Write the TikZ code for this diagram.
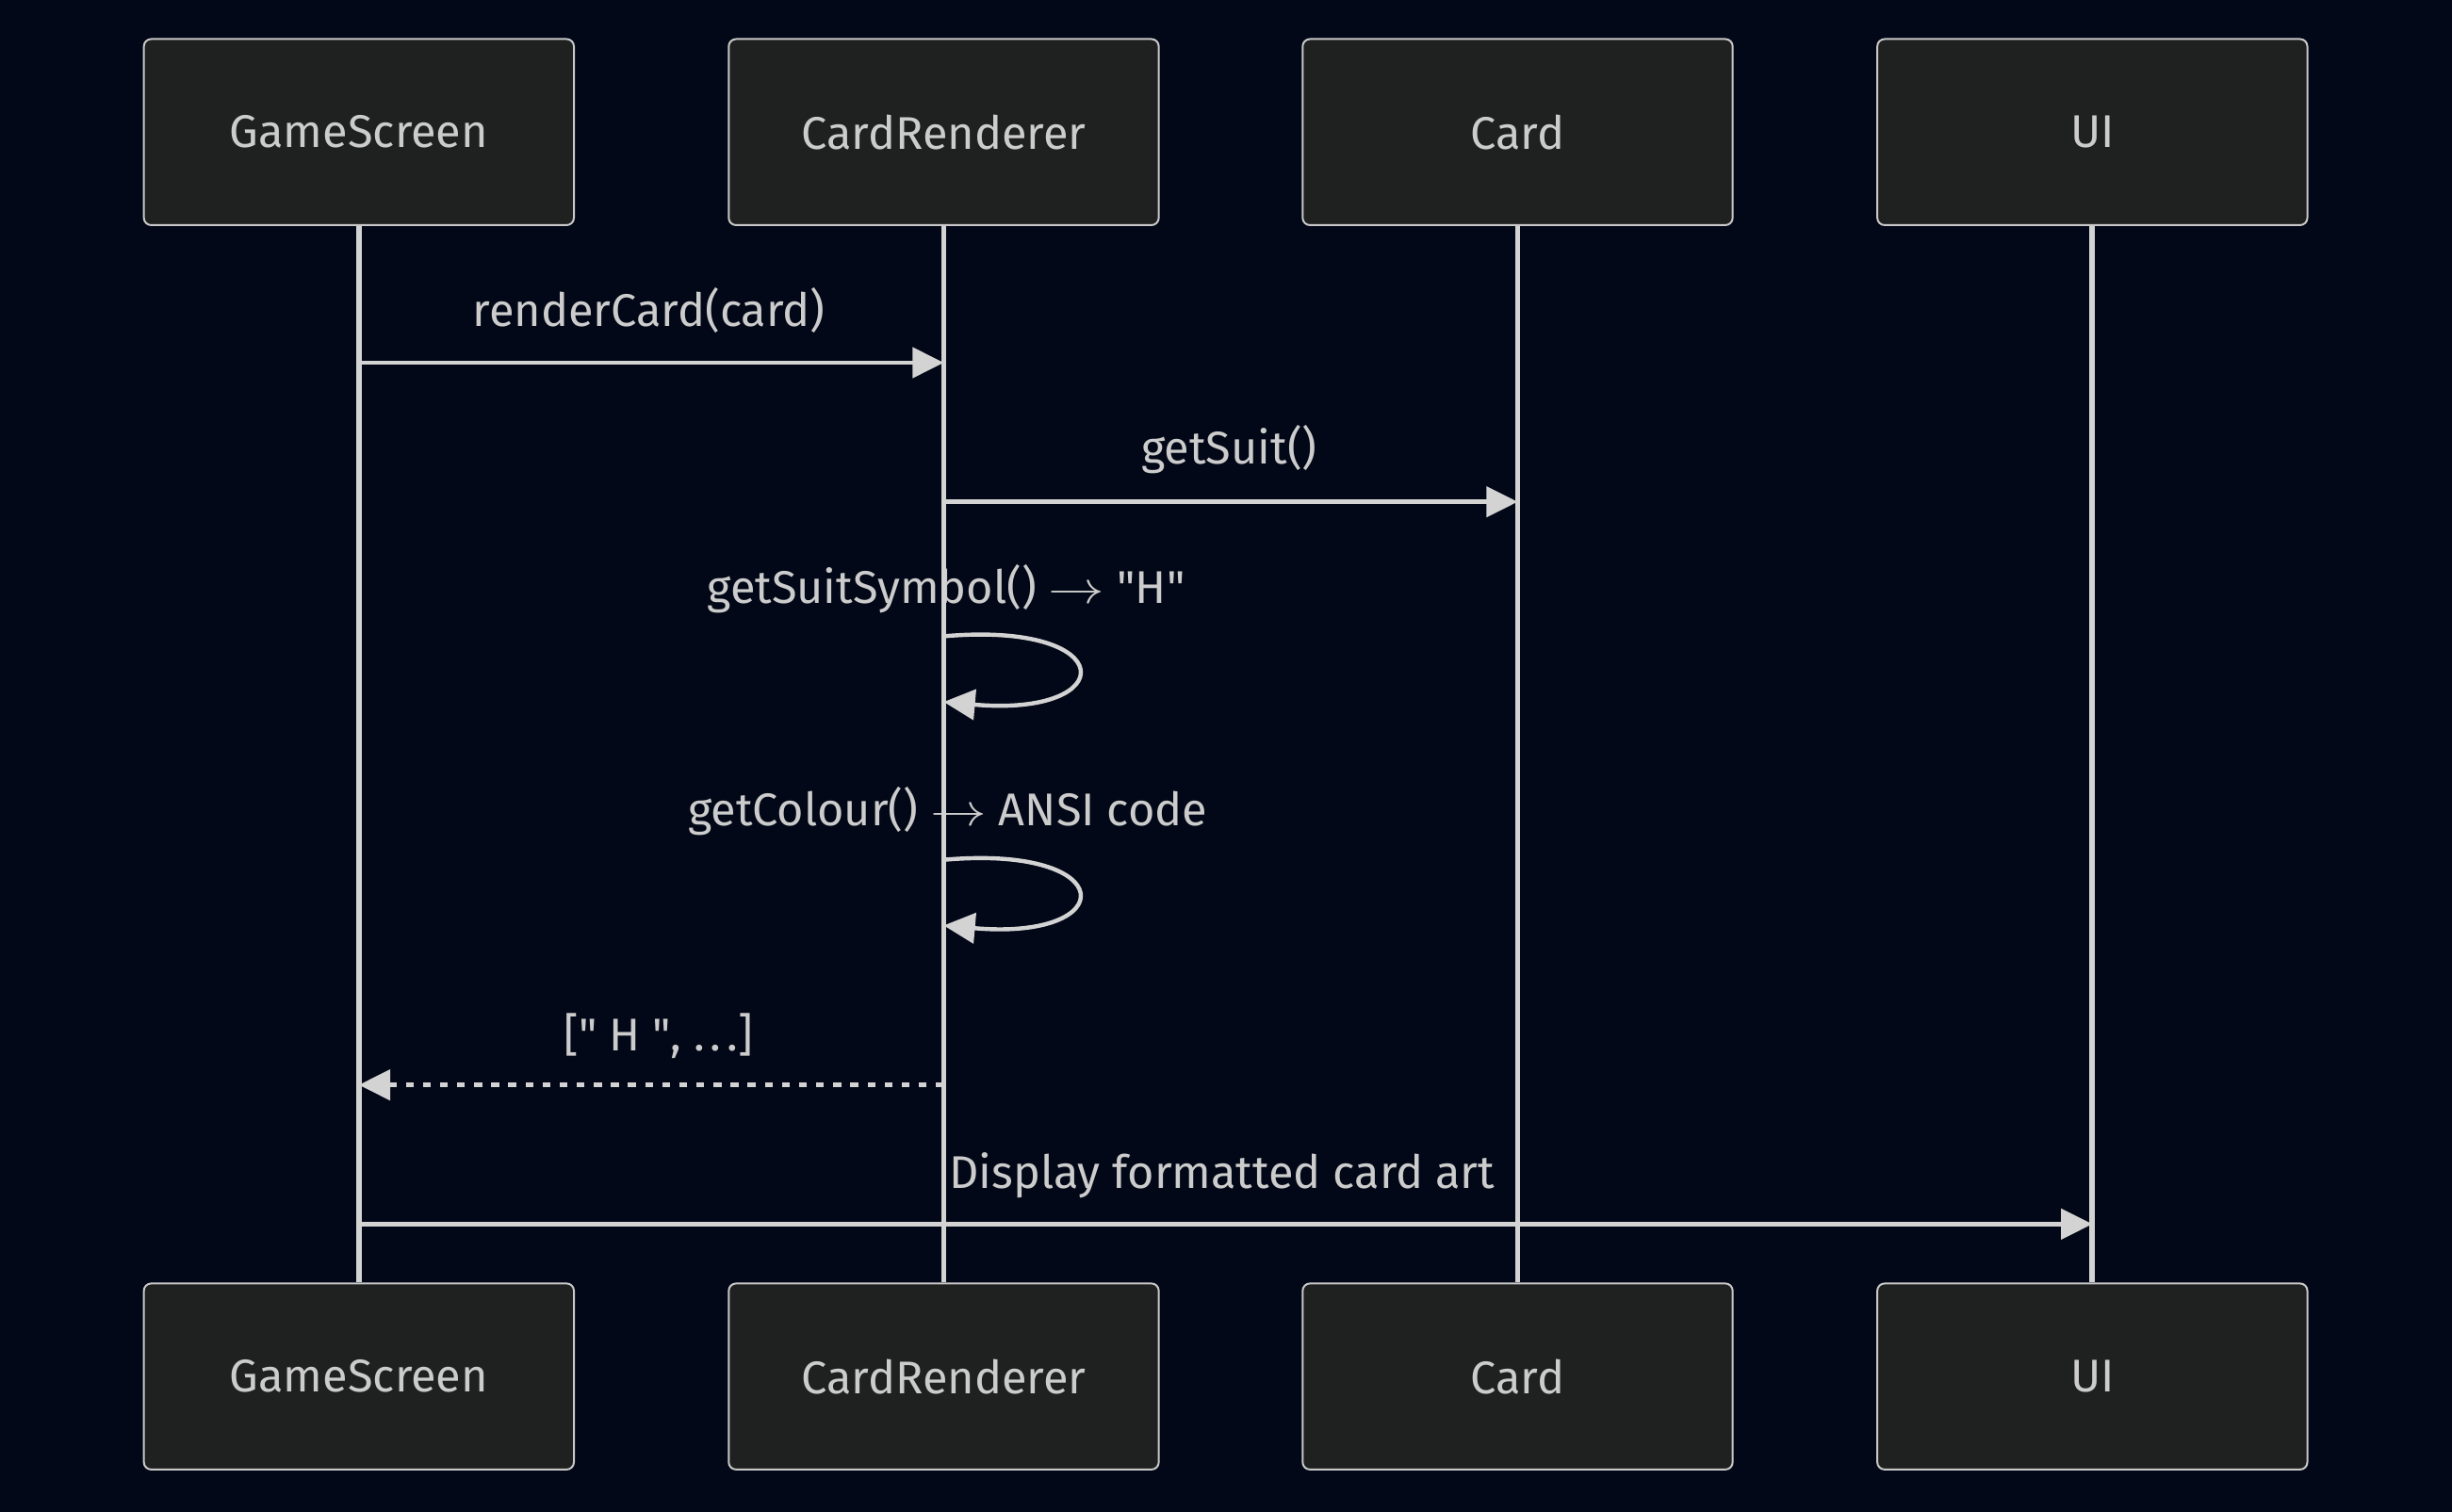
\documentclass[tikz,border=0pt]{standalone}
\usepackage{fontspec}
\setmainfont{Fira Sans}
\newfontfamily\plainfont[Ligatures=TeXOff]{Fira Sans}
\usetikzlibrary{arrows.meta}
\definecolor{bgc}{RGB}{2,8,23}
\definecolor{boxfill}{RGB}{31,32,32}
\definecolor{boxline}{RGB}{200,200,200}
\definecolor{txt}{RGB}{204,204,204}
\definecolor{lnc}{RGB}{211,211,211}
\newcommand{\qq}{{\plainfont"}}
\newcommand{\rarr}{\scalebox{1.3}[1.05]{$\rightarrow$}}
\begin{document}
\begin{tikzpicture}[x=0.75pt,y=-0.75pt,
  actor/.style={draw=boxline, fill=boxfill, line width=0.9pt, rounded corners=3.5pt,
    minimum width=206.25pt, minimum height=89.25pt, inner sep=0pt,
    text=txt, font=\fontsize{22pt}{26pt}\selectfont},
  lifeline/.style={draw=lnc, line width=2.6pt},
  msg/.style={draw=lnc, line width=2pt, -{Triangle[length=15pt,width=14.5pt]}},
  reply/.style={msg, dash pattern=on 3.8pt off 4.4pt},
  lbl/.style={text=txt, inner sep=0pt, anchor=base, font=\fontsize{22pt}{26pt}\selectfont}]
\fill[bgc] (0,0) rectangle (1568,967);
\useasboundingbox (0,0) rectangle (1568,967);
% actors top
\node[actor] (gs) at (229.5,84.5) {GameScreen};
\node[actor] (cr) at (603.5,84.5) {CardRenderer};
\node[actor] (cd) at (970.5,84.5) {Card};
\node[actor] (ui) at (1338,84.5) {UI};
% actors bottom
\node[actor] (gsb) at (229.5,880.5) {GameScreen};
\node[actor] (crb) at (603.5,880.5) {CardRenderer};
\node[actor] (cdb) at (970.5,880.5) {Card};
\node[actor] (uib) at (1338,880.5) {UI};
% lifelines
\draw[lifeline] (gs.south) -- (gsb.north);
\draw[lifeline] (cr.south) -- (crb.north);
\draw[lifeline] (cd.south) -- (cdb.north);
\draw[lifeline] (ui.south) -- (uib.north);
% messages
\node[lbl] (l1) at (415,209) {renderCard(card)};
\draw[msg] (gs |- 0,232) -- (cr |- 0,232);
\node[lbl] (l2) at (786,297) {getSuit()};
\draw[msg] (cr |- 0,321) -- (cd |- 0,321);
\node[lbl] (l3) at (605,386) {getSuitSymbol() \rarr{} \qq H\qq};
\draw[lifeline] (cr |- 0,360) -- (cr |- 0,395);
\draw[msg] (cr |- 0,407) .. controls (717,397) and (717,459) .. (cr |- 0,449);
\node[lbl] (l4) at (606,528) {getColour() \rarr{} ANSI code};
\draw[lifeline] (cr |- 0,500) -- (cr |- 0,540);
\draw[msg] (cr |- 0,550) .. controls (717,540) and (717,602) .. (cr |- 0,592);
\node[lbl] (l5) at (421,672) {[\qq{} H \qq, .\hspace{0.12em}.\hspace{0.12em}.]};
\draw[reply] (cr |- 0,694) -- (gs |- 0,694);
\node[lbl] (l6) at (781.5,760) {Display formatted card art};
\draw[msg] (gs |- 0,783) -- (ui |- 0,783);
\draw[lifeline] (cr |- 0,735) -- (cr |- 0,770);
\draw[lifeline] (cd |- 0,735) -- (cd |- 0,770);
\end{tikzpicture}
\end{document}
